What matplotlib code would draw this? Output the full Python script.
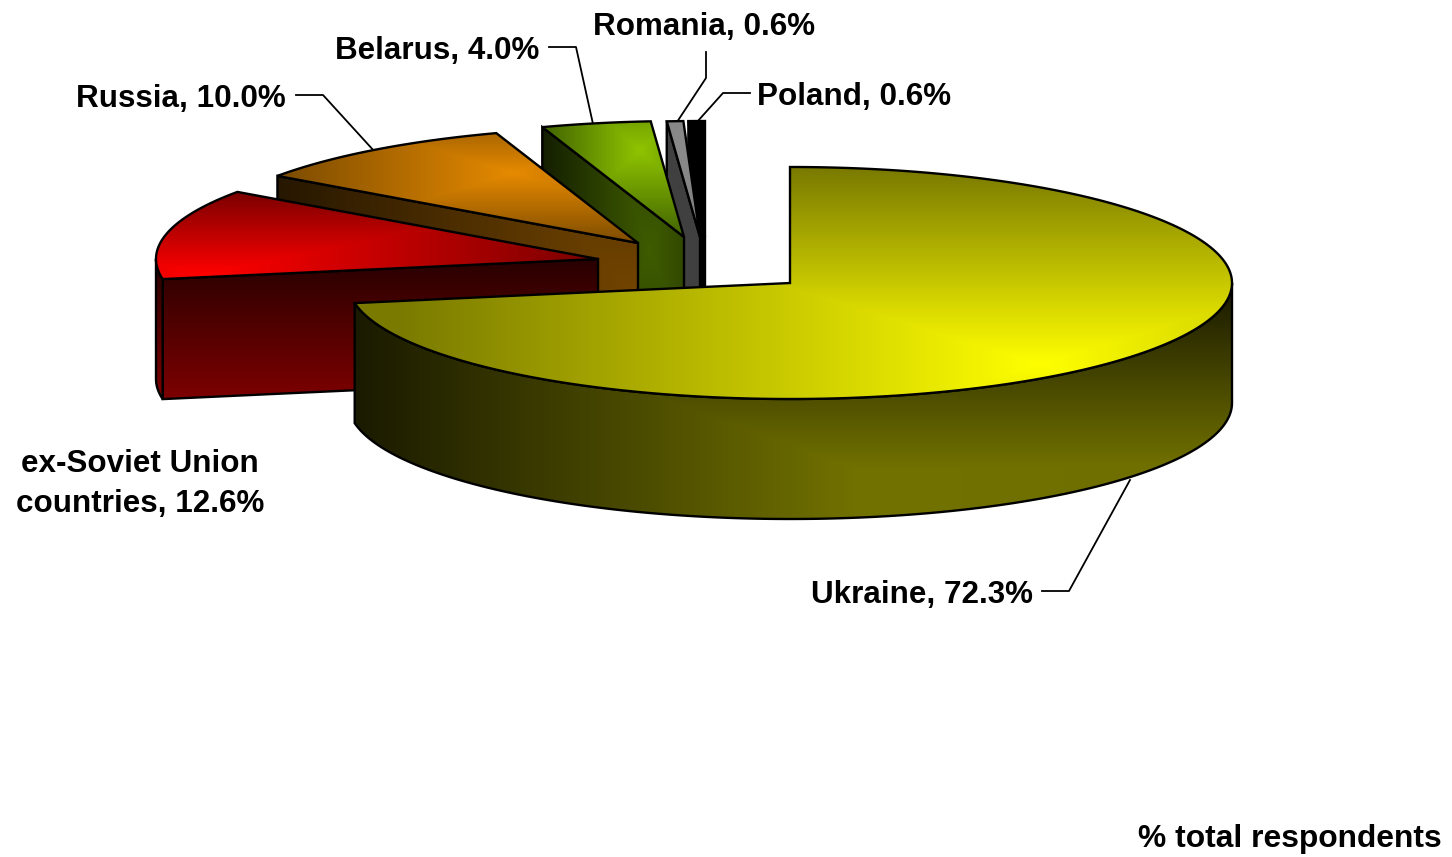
import numpy as np
import matplotlib
matplotlib.use("Agg")
import matplotlib.pyplot as plt
from matplotlib.patches import Polygon

names = ["Ukraine", "ex-Soviet Union\ncountries", "Russia", "Belarus", "Romania", "Poland"]
shares = [72.3, 12.6, 10.0, 4.0, 0.6, 0.6]

plt.rcParams["font.family"] = ["Liberation Sans", "DejaVu Sans"]

# pie geometry in image pixels
RX, RY, DEPTH = 442, 116, 120
apexes = [(790, 283), (598, 259), (638, 243), (684, 237), (700, 237), (705, 237)]

# gradients: bright colour, dark colour, centre, falloff left, right, up, down
top_styles = [
    ("#ffff00", "#7a7a00", (1040, 364), 640, 640, 195, 195),
    ("#ff0000", "#7a0000", (205, 274), 393, 393, 82, 82),
    ("#e68a00", "#7a4a00", (513, 173), 236, 236, 72, 72),
    ("#8fc400", "#3f6000", (640, 150), 100, 100, 90, 90),
    ("#8a8a8a", "#808080", (680, 150), 30, 30, 90, 90),
    ("#000000", "#000000", (695, 150), 30, 30, 90, 90),
]
side_styles = [
    ("#727200", "#1a1a00", (860, 470), 505, 9000, 180, 9000),
    ("#7f0000", "#260000", (170, 402), 2000, 2000, 145, 145),
    ("#734500", "#261700", (640, 300), 365, 365, 400, 400),
    ("#3f5c00", "#121c00", (650, 250), 112, 112, 300, 300),
    ("#404040", "#404040", (680, 250), 30, 30, 90, 90),
    ("#000000", "#000000", (695, 250), 30, 30, 90, 90),
]

label_spots = [
    (1033, 595, "right"), (140, 484, "center"), (286, 99, "right"),
    (539, 51, "right"), (815, 27, "right"), (757, 97, "left"),
]
leaders = [
    [(1130, 480), (1069, 591), (1042, 591)],
    None,
    [(375, 152), (323, 95), (296, 95)],
    [(593, 124), (576, 47), (549, 47)],
    [(677, 122), (706, 78), (706, 52)],
    [(697, 122), (723, 93), (750, 93)],
]


def rim_points(apex, a0, a1, drop=0):
    """Angles in degrees clockwise from 12 o'clock."""
    angles = np.radians(np.linspace(a0, a1, max(int(abs(a1 - a0) * 2), 2)))
    xs = apex[0] + RX * np.sin(angles)
    ys = apex[1] - RY * np.cos(angles) + drop
    return np.column_stack([xs, ys])


def fill_gradient(ax, points, style, zorder):
    bright, dark, center, left, right, up, down = style
    x0, y0 = np.floor(points.min(axis=0)).astype(int) - 2
    x1, y1 = np.ceil(points.max(axis=0)).astype(int) + 2
    xx, yy = np.meshgrid(np.arange(x0, x1) + 0.5, np.arange(y0, y1) + 0.5)
    dx = xx - center[0]
    dy = yy - center[1]
    tx = np.where(dx < 0, -dx / left, dx / right)
    ty = np.where(dy < 0, -dy / up, dy / down)
    t = np.clip(np.maximum(tx, ty), 0, 1)
    c0 = np.array(matplotlib.colors.to_rgb(bright))
    c1 = np.array(matplotlib.colors.to_rgb(dark))
    img = c0 + (c1 - c0) * t[..., None]
    im = ax.imshow(img, extent=(x0, x1, y1, y0), aspect="auto", zorder=zorder, interpolation="bilinear")
    outline = Polygon(points, closed=True, facecolor="none", edgecolor="black",
                      linewidth=1.7, joinstyle="miter", zorder=zorder + 0.5)
    ax.add_patch(outline)
    im.set_clip_path(outline)


def draw_slice(ax, apex, a0, a1, top_style, side_style, zorder):
    # radial side at the start of the slice, only faces us on the left half
    if a0 > 180:
        start = rim_points(apex, a0, a0, 0)[0]
        side = np.array([apex, start, (start[0], start[1] + DEPTH), (apex[0], apex[1] + DEPTH)])
        fill_gradient(ax, side, side_style, zorder)
    # outer wall, front half of the ellipse only
    lo, hi = max(a0, 90), min(a1, 270)
    if lo < hi:
        upper = rim_points(apex, lo, hi)
        lower = rim_points(apex, hi, lo, DEPTH)
        fill_gradient(ax, np.vstack([upper, lower]), side_style, zorder + 1)
    top = np.vstack([[apex], rim_points(apex, a0, a1)])
    fill_gradient(ax, top, top_style, zorder + 2)


fig = plt.figure(figsize=(14.52, 8.57), dpi=100)
ax = fig.add_axes([0, 0, 1, 1])

# shares add up to 100.1, the pie still closes at 360 degrees
edges = np.concatenate([[0], np.cumsum(shares)]) / sum(shares) * 360
# back slices first, Ukraine goes on top of everything
for i in range(len(shares) - 1, -1, -1):
    draw_slice(ax, apexes[i], edges[i], edges[i + 1], top_styles[i], side_styles[i], 10 + (5 - i) * 3)

for i, name in enumerate(names):
    x, y, ha = label_spots[i]
    ax.text(x, y, f"{name}, {shares[i]:.1f}%", ha=ha, va="center", ma="center", fontsize=22.6,
            fontweight="bold", color="black", linespacing=1.45, zorder=40)
    if leaders[i]:
        ax.plot(*zip(*leaders[i]), color="black", linewidth=1.3, zorder=5)

ax.text(1442, 839, "% total respondents", ha="right", va="center", fontsize=22.9, fontweight="bold")

ax.set_xlim(0, 1452)
ax.set_ylim(857, 0)
ax.axis("off")
fig.savefig("out.png", dpi=100, facecolor="white")
